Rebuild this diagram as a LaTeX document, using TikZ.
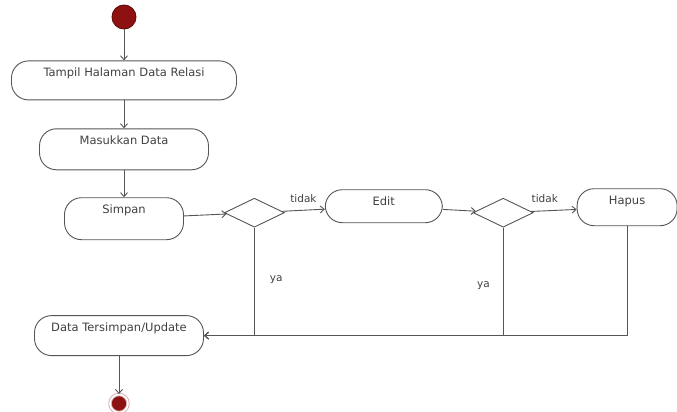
\documentclass[tikz,border=0pt]{standalone}
\usepackage{fontspec}
\setmainfont{DejaVu Sans}
\usetikzlibrary{arrows.meta,positioning,shapes.geometric}
\definecolor{umlred}{HTML}{8E1111}
\definecolor{umlline}{HTML}{555555}

\begin{document}
\begin{tikzpicture}[x=1pt,y=1pt,line width=0.9pt,
    act/.style={draw=umlline,rounded corners=17pt,text=black!75,font=\fontsize{11.5}{13}\selectfont,inner ysep=4pt,text height=11.5pt,text depth=#1},
    act/.default=20pt,
    dec/.style={draw=umlline,diamond,inner sep=0pt,minimum width=60pt,minimum height=29pt},
    lbl/.style={text=black!75,font=\fontsize{10.5}{12}\selectfont,inner sep=1pt},
    arr/.style={draw=umlline,-{Straight Barb[length=4pt,width=7pt]}}]
      \useasboundingbox (0,0) rectangle (677,-412);
      \node[circle,fill=umlred,draw=umlred!70!black,minimum size=24pt] (start) at (124,-17) {};
      \node[act=19.5pt,minimum width=225pt,below=31pt of start] (tampil) {Tampil Halaman Data Relasi};
      \node[act=21.5pt,minimum width=169pt,below=28pt of tampil] (masuk) {Masukkan Data};
      \node[act=22.5pt,minimum width=119pt,below=27pt of masuk] (simpan) {Simpan};
      \node[dec,right=40pt of simpan,yshift=6pt] (d1) {};
      \node[act=13.5pt,minimum width=117pt,right=40pt of d1,yshift=6.5pt] (edit) {Edit};
      \node[dec,right=30pt of edit,yshift=-6.5pt] (d2) {};
      \node[act=17.5pt,minimum width=100pt,right=43pt of d2,yshift=5.5pt] (hapus) {Hapus};
      \node[act=20.5pt,minimum width=169pt,below=75pt of simpan,xshift=-5pt] (data) {Data Tersimpan/Update};
      \node[circle,fill=umlred,draw=umlred!35,double=white,double distance=1.6pt,minimum size=18pt,below=38pt of data] (end) {};
      % alur utama
      \draw[arr] (start)--(tampil); \draw[arr] (tampil)--(masuk); \draw[arr] (masuk)--(simpan);
      \draw[arr] (simpan)--(d1); \draw[arr] (d1)--node[lbl,above=6pt] {tidak} (edit);
      \draw[arr] (edit)--(d2); \draw[arr] (d2)--node[lbl,pos=0.3,above=7pt] {tidak} (hapus);
      % kembali ke data tersimpan
      \draw[arr] (d1.south) |- node[lbl,pos=0.24,right=14pt] {ya} (data.east);
      \draw[arr] (d2.south) |- node[lbl,pos=0.27,left=12pt] {ya} (data.east);
      \draw[arr] (hapus.south) |- (data.east);
      \draw[arr] (data)--(end);
    \end{tikzpicture}
\end{document}
